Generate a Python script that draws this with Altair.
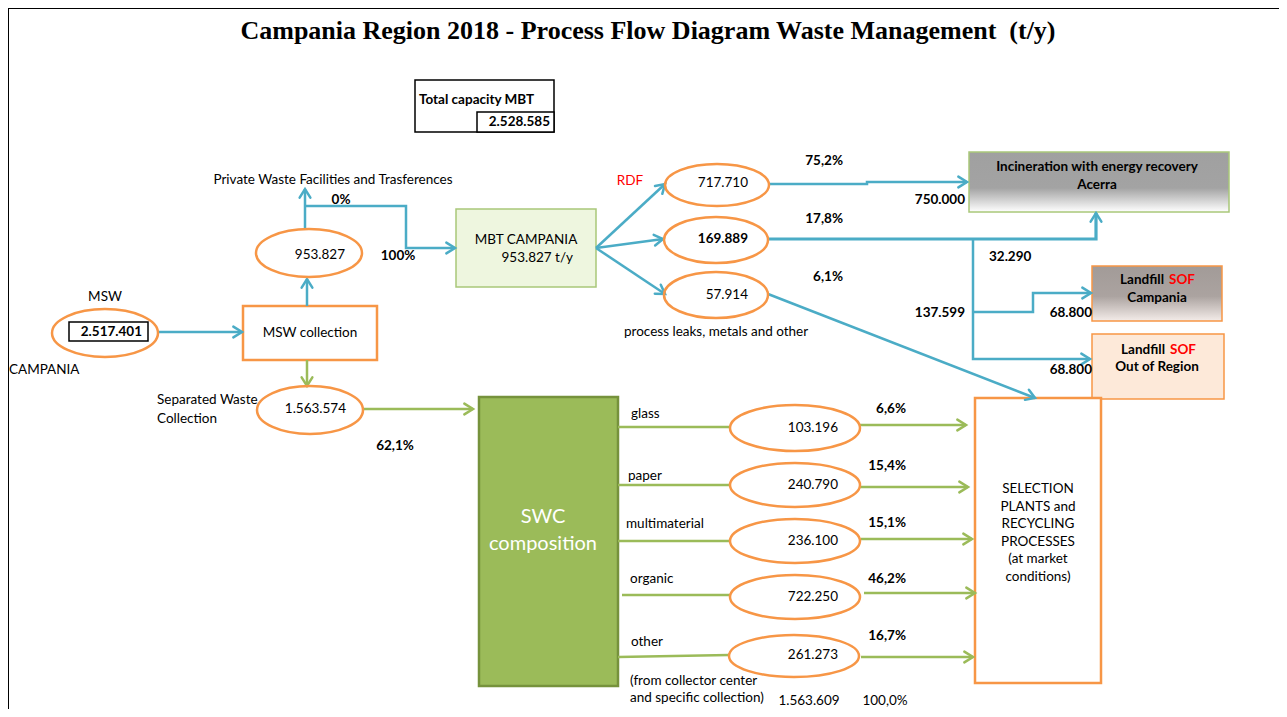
import altair as alt
import pandas as pd
import math

# ------------------------------------------------------------------ values
title = "Campania Region 2018 - Process Flow Diagram Waste Management\u00a0\u00a0(t/y)"

# flows shown inside the ellipses (t/y)
flow_names = ["MSW", "MSW to MBT", "RDF", "SOF", "leaks", "SWC",
              "glass", "paper", "multimaterial", "organic", "other"]
flow_values = [2517401, 953827, 717710, 169889, 57914, 1563574,
               103196, 240790, 236100, 722250, 261273]
flow_bold = [True, False, False, True, False, False,
             False, False, False, False, False]

# shares
mbt_split_pct = ["75,2%", "17,8%", "6,1%"]
swc_split_pct = ["6,6%", "15,4%", "15,1%", "46,2%", "16,7%"]
swc_share_pct = "62,1%"
private_pct = ["0%", "100%"]
swc_total = [1563609, "100,0%"]

# other quantities
mbt_capacity = 2528585
incineration_amount = 750000
sof_to_incineration = 32290
sof_to_landfill = 137599
landfill_split = [68800, 68800]


def fmt(v):
    return f"{v:,}".replace(",", ".")


# ------------------------------------------------------------------ layout (pixel space of the picture)
ell_cx = [105, 309, 717, 716, 716, 310, 795, 795, 795, 795, 794]
ell_cy = [333, 253, 185, 240, 295, 410, 428, 485, 541, 597, 656]
ell_rx = [53, 53, 52, 52, 52, 53, 65, 65, 65, 65, 65]
ell_ry = [24, 24, 21, 23, 23, 24, 23, 22, 22, 22, 21]
ell_tx = [142, 345, 748, 748, 748, 346, 838, 838, 838, 838, 838]
ell_ty = [332, 255, 183, 239, 295, 409, 428, 485, 541, 597, 655]

BLUE = "#4BACC6"
GREEN = "#9BBB59"
ORANGE = "#F79646"

# polylines: (points, colour, width, arrow)
edges = [
    ([(9, 8), (1287, 8)], "#000000", 2, False),
    ([(8, 8), (8, 717)], "#000000", 2, False),
    ([(158, 332), (242, 332)], BLUE, 2.5, True),
    ([(307, 306), (307, 279)], BLUE, 2.5, True),
    ([(305, 229), (305, 189)], BLUE, 2.5, True),
    ([(305, 206), (406, 206), (406, 248), (455, 248)], BLUE, 2.5, True),
    ([(596, 248), (665, 184)], BLUE, 2.5, True),
    ([(596, 248), (663, 239)], BLUE, 2.5, True),
    ([(596, 248), (665, 294)], BLUE, 2.5, True),
    ([(769, 184), (867, 184), (867, 182), (967, 182)], BLUE, 2.5, True),
    ([(768, 239), (1096, 239), (1096, 213)], BLUE, 3.2, True),
    ([(973, 239), (973, 359), (1090, 359)], BLUE, 2.5, True),
    ([(973, 312), (1033, 312), (1033, 293), (1091, 293)], BLUE, 2.5, True),
    ([(768, 294), (1035, 398)], BLUE, 2.5, True),
    ([(307, 360), (307, 386)], GREEN, 2.5, True),
    ([(363, 409), (473, 409)], GREEN, 2.5, True),
    ([(618, 427), (730, 427)], GREEN, 2.5, False),
    ([(618, 485), (730, 485)], GREEN, 2.5, False),
    ([(618, 541), (730, 541)], GREEN, 2.5, False),
    ([(622, 595), (730, 595)], GREEN, 2.5, False),
    ([(618, 657), (729, 655)], GREEN, 2.5, False),
    ([(859, 425), (966, 425)], GREEN, 2.5, True),
    ([(859, 487), (968, 487)], GREEN, 2.5, True),
    ([(861, 539), (972, 539)], GREEN, 2.5, True),
    ([(864, 593), (975, 593)], GREEN, 2.5, True),
    ([(861, 657), (973, 657)], GREEN, 2.5, True),
]

# boxes: x, x2, y, y2, fill, stroke, stroke width
boxes = [
    (415, 554, 80, 132, "#FFFFFF", "#000000", 1.5),
    (477, 554, 112, 132, "#FFFFFF", "#000000", 1.5),
    (243, 377, 306, 360, "#FFFFFF", ORANGE, 2.5),
    (456, 596, 209, 287, "#EEF6DF", "#A9C77A", 1.5),
    (1092, 1224, 334, 399, "#FDE9D9", ORANGE, 1.5),
    (479, 618, 397, 686, GREEN, "#76923C", 2.5),
    (975, 1101, 398, 683, "#FFFFFF", ORANGE, 2.5),
]
grad_boxes = [
    ((969, 1229, 152, 212), "#A9C77A", [("#A0A0A0", 0), ("#A3A3A3", 0.6), ("#FFFFFF", 1)]),
    ((1092, 1222, 266, 321), ORANGE, [("#A29B98", 0), ("#ABA3A0", 0.55), ("#F4ECE9", 1)]),
]
inner_boxes = [(69, 148, 322, 341, "#FFFFFF", "#000000", 1.5)]

# text labels: text, x, y, align, bold, colour, size
labels = []
FS = 13.5


def lab(t, x, y, align="center", bold=False, color="#000000", size=FS, font="Lato"):
    labels.append(dict(text=t, x=x, y=y, align=align, bold=bold, col=color, sz=size, font=font))


lab(title, 648, 31, bold=True, size=26, font="Liberation Serif")
lab("Total capacity MBT", 419, 100, "left", True)
lab(fmt(mbt_capacity), 550, 122, "right", True)
lab("Private Waste Facilities and Trasferences", 333, 180)
lab(private_pct[0], 341, 200, bold=True)
lab(private_pct[1], 398, 256, bold=True)
lab("MSW", 105, 297)
lab("CAMPANIA", 9, 370, "left")
lab("MSW collection", 310, 333)
lab("Separated Waste", 157, 400, "left")
lab("Collection", 157, 419, "left")
lab(swc_share_pct, 395, 446, bold=True)
lab("MBT CAMPANIA", 526, 240)
lab(f"{fmt(flow_values[1])} t/y", 573, 258, "right")
lab("RDF", 630, 181, color="#FF0000")
lab("process leaks, metals and other", 624, 332, "left")
for t, yy in zip(mbt_split_pct, [161, 219, 277]):
    lab(t, 843, yy, "right", True)
lab(fmt(incineration_amount), 965, 200, "right", True)
lab(fmt(sof_to_incineration), 989, 257, "left", True)
lab(fmt(sof_to_landfill), 965, 313, "right", True)
lab(fmt(landfill_split[0]), 1092, 313, "right", True)
lab(fmt(landfill_split[1]), 1092, 370, "right", True)
lab("Incineration with energy recovery", 1097, 167, bold=True)
lab("Acerra", 1097, 185, bold=True)
lab("Landfill", 1164, 280, "right", True)
lab("SOF", 1169, 280, "left", True, "#FF0000")
lab("Campania", 1157, 298, bold=True)
lab("Landfill", 1165, 350, "right", True)
lab("SOF", 1170, 350, "left", True, "#FF0000")
lab("Out of Region", 1157, 367, bold=True)
lab("SWC", 543, 517, color="#FFFFFF", size=20)
lab("composition", 543, 544, color="#FFFFFF", size=20)
for name, x, yy in zip(flow_names[6:], [631, 628, 626, 630, 631], [414, 476, 524, 579, 642]):
    lab(name, x, yy, "left")
lab("(from collector center", 630, 681, "left")
lab("and specific collection)", 630, 698, "left")
for t, yy in zip(swc_split_pct, [409, 466, 523, 579, 636]):
    lab(t, 906, yy, "right", True)
for i, t in enumerate(["SELECTION", "PLANTS and", "RECYCLING", "PROCESSES", "(at market", "conditions)"]):
    lab(t, 1038, 489 + i * 17.6)
lab(fmt(swc_total[0]), 809, 701)
lab(swc_total[1], 885, 701)
for i in range(len(flow_values)):
    lab(fmt(flow_values[i]), ell_tx[i], ell_ty[i], "right", flow_bold[i])

# ------------------------------------------------------------------ scales
W, H = 1271, 701
XS = alt.Scale(domain=[8, 8 + W], nice=False, zero=False)
YS = alt.Scale(domain=[8, 8 + H], nice=False, zero=False, reverse=True)


def X(f="x"):
    return alt.X(f"{f}:Q", scale=XS, axis=None)


def Y(f="y"):
    return alt.Y(f"{f}:Q", scale=YS, axis=None)


# ------------------------------------------------------------------ tables
line_rows, head_rows = [], []
for i, (pts, col, w, arrow) in enumerate(edges):
    for j, (px, py) in enumerate(pts):
        line_rows.append(dict(id=i, seq=j, x=px, y=py, col=col, w=w))
    if arrow:
        (ax, ay), (bx, by) = pts[-2], pts[-1]
        ang = math.degrees(math.atan2(by - ay, bx - ax)) % 360
        head_rows.append(dict(x=bx, y=by, ang=ang, col=col))
lines_df = pd.DataFrame(line_rows)
heads_df = pd.DataFrame(head_rows)

K = 0.5523


def ell_path(k):
    a, b = K, K * k
    return (f"M-1,0C-1,{-b:.4f},{-a:.4f},{-k:.4f},0,{-k:.4f}"
            f"C{a:.4f},{-k:.4f},1,{-b:.4f},1,0"
            f"C1,{b:.4f},{a:.4f},{k:.4f},0,{k:.4f}"
            f"C{-a:.4f},{k:.4f},-1,{b:.4f},-1,0Z")


ell_df = pd.DataFrame(dict(
    x=ell_cx, y=ell_cy,
    path=[ell_path(ry / rx) for rx, ry in zip(ell_rx, ell_ry)],
    sz=[4 * rx * rx for rx in ell_rx],
))

box_df = pd.DataFrame(boxes, columns=["x", "x2", "y", "y2", "fill", "stroke", "sw"])
inner_df = pd.DataFrame(inner_boxes, columns=["x", "x2", "y", "y2", "fill", "stroke", "sw"])


def rect_layer(df):
    return alt.Chart(df).mark_rect(opacity=1).encode(
        x=X(), x2="x2:Q", y=Y(), y2="y2:Q",
        fill=alt.Fill("fill:N", scale=None, legend=None),
        stroke=alt.Stroke("stroke:N", scale=None, legend=None),
        strokeWidth=alt.StrokeWidth("sw:Q", scale=None, legend=None),
    )


layers = [rect_layer(box_df)]

for (x1, x2, y1, y2), stroke, stops in grad_boxes:
    gdf = pd.DataFrame([dict(x=x1, x2=x2, y=y1, y2=y2)])
    layers.append(
        alt.Chart(gdf).mark_rect(
            fill=alt.Gradient(gradient="linear", x1=0, x2=0, y1=0, y2=1,
                              stops=[alt.GradientStop(color=c, offset=o) for c, o in stops]),
            stroke=stroke, strokeWidth=1.5,
        ).encode(x=X(), x2="x2:Q", y=Y(), y2="y2:Q")
    )

layers.append(
    alt.Chart(lines_df).mark_line(strokeCap="butt", strokeJoin="miter").encode(
        x=X(), y=Y(), detail="id:N", order="seq:Q",
        color=alt.Color("col:N", scale=None, legend=None),
        strokeWidth=alt.StrokeWidth("w:Q", scale=None, legend=None),
    )
)
layers.append(
    alt.Chart(heads_df).mark_point(
        shape="M-1,-0.62L0,0L-1,0.62", filled=False, strokeWidth=2.5, opacity=1,
        size=300, strokeCap="round", strokeJoin="miter",
    ).encode(
        x=X(), y=Y(),
        angle=alt.Angle("ang:Q", scale=None),
        color=alt.Color("col:N", scale=None, legend=None),
    )
)
layers.append(
    alt.Chart(ell_df).mark_point(filled=False, strokeWidth=2.5, opacity=1, color=ORANGE).encode(
        x=X(), y=Y(),
        shape=alt.Shape("path:N", scale=None, legend=None),
        size=alt.Size("sz:Q", scale=None, legend=None),
    )
)
layers.append(rect_layer(inner_df))

lab_df = pd.DataFrame(labels)
for (align, bold, font), g in lab_df.groupby(["align", "bold", "font"]):
    layers.append(
        alt.Chart(g.reset_index(drop=True)).mark_text(
            align=align, baseline="middle", font=font,
            fontWeight="bold" if bold else "normal",
        ).encode(
            x=X(), y=Y(), text="text:N",
            color=alt.Color("col:N", scale=None, legend=None),
            size=alt.Size("sz:Q", scale=None, legend=None),
        )
    )

chart = alt.layer(*layers).properties(
    width=W, height=H, padding=0, autosize=alt.AutoSizeParams(type="none"),
    background="white",
).configure_view(stroke=None)

chart.save("out.html", embed_options={"renderer": "svg", "actions": False})
